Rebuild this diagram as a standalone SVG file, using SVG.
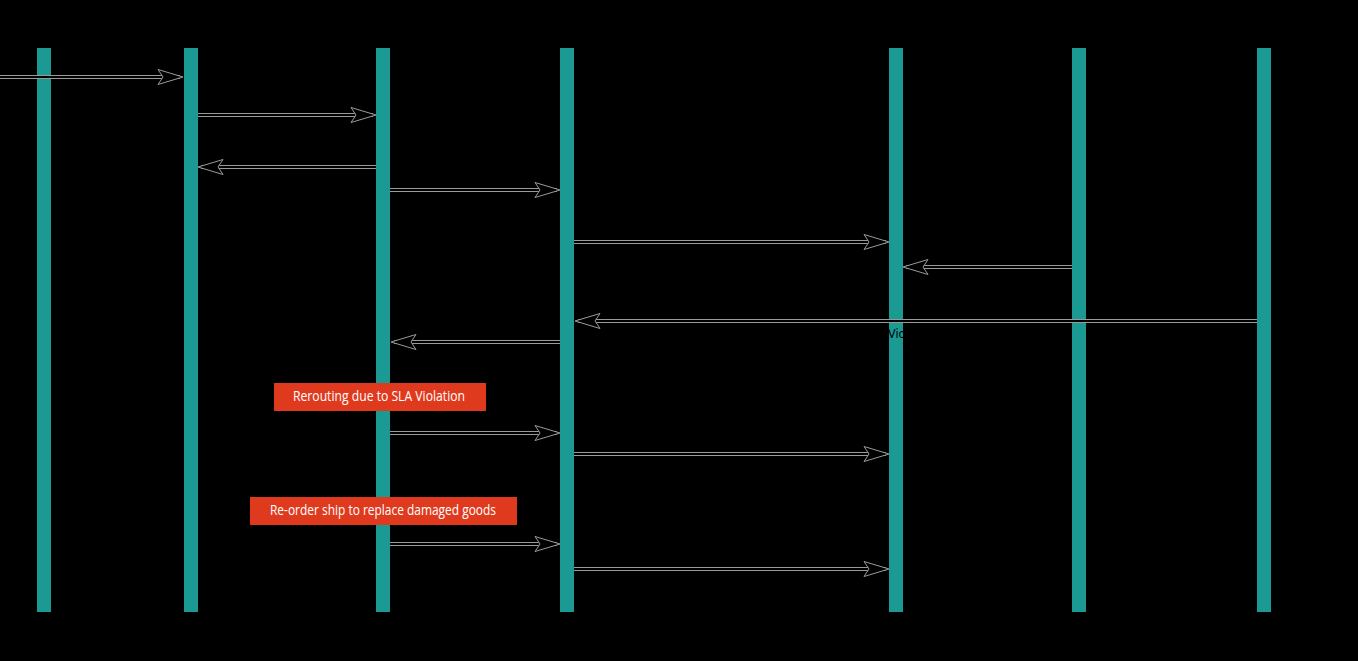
<svg xmlns="http://www.w3.org/2000/svg" width="1358" height="661" viewBox="0 0 1358 661">
<style>
.bg{fill:#000}
.life{fill:#1b9a94}
.hdr{font-family:"DejaVu Sans Condensed","Liberation Sans",sans-serif;font-size:17px;fill:#000;text-anchor:middle}
.lbl{font-family:"DejaVu Sans Condensed","Liberation Sans",sans-serif;font-size:12.5px;fill:#000;text-anchor:middle}
.lbe{text-anchor:end}
.eo{fill:none;stroke:#9a9a9a;stroke-width:4}
.ei{fill:none;stroke:#000;stroke-width:1.8;marker-end:url(#ah)}
.loop{fill:none;stroke:#000;stroke-width:1.5}
.note{fill:#e03a1e}
.ntx{font-family:"Open Sans","Liberation Sans",sans-serif;font-size:14px;fill:#fff;text-anchor:middle}
</style>
<defs>
<marker id="ah" markerUnits="userSpaceOnUse" markerWidth="27" markerHeight="17" refX="25" refY="8" orient="auto" viewBox="-1 0 27 16">
<path d="M0,0.5 L25,8 L0,15.5 L5,8 Z" fill="#000" stroke="#9a9a9a" stroke-width="1"/>
</marker>
</defs>
<rect class="bg" x="0" y="0" width="1358" height="661"/>
<g id="lifelines">
<g id="shipper"><rect class="life" x="37" y="48" width="14" height="564"/><text class="hdr" x="41" y="30" textLength="60" lengthAdjust="spacingAndGlyphs">Shipper</text><text class="hdr" x="41" y="638" textLength="60" lengthAdjust="spacingAndGlyphs">Shipper</text></g>
<g id="erp"><rect class="life" x="184" y="48" width="14" height="564"/><text class="hdr" x="190" y="30" textLength="16" lengthAdjust="spacingAndGlyphs">ERP</text><text class="hdr" x="190" y="638" textLength="16" lengthAdjust="spacingAndGlyphs">ERP</text></g>
<g id="b1"><rect class="life" x="376" y="48" width="14" height="564"/><text class="hdr" x="390" y="30" textLength="188" lengthAdjust="spacingAndGlyphs">B1 Web Registration Layer</text><text class="hdr" x="390" y="638" textLength="188" lengthAdjust="spacingAndGlyphs">B1 Web Registration Layer</text></g>
<g id="b2"><rect class="life" x="560" y="48" width="14" height="564"/><text class="hdr" x="577" y="30" textLength="144" lengthAdjust="spacingAndGlyphs">B2 Shipping Layer</text><text class="hdr" x="577" y="638" textLength="144" lengthAdjust="spacingAndGlyphs">B2 Shipping Layer</text></g>
<g id="b3"><rect class="life" x="889" y="48" width="14" height="564"/><text class="hdr" x="904" y="30" textLength="132" lengthAdjust="spacingAndGlyphs">B3 Routing Layer</text><text class="hdr" x="904" y="638" textLength="132" lengthAdjust="spacingAndGlyphs">B3 Routing Layer</text></g>
<g id="b4"><rect class="life" x="1072" y="48" width="14" height="564"/><text class="hdr" x="1087" y="30" textLength="174" lengthAdjust="spacingAndGlyphs">B4 Monitoring Layer</text><text class="hdr" x="1087" y="638" textLength="174" lengthAdjust="spacingAndGlyphs">B4 Monitoring Layer</text></g>
<g id="iot"><rect class="life" x="1257" y="48" width="14" height="564"/><text class="hdr" x="1266" y="30" textLength="166" lengthAdjust="spacingAndGlyphs">IoT Cloud Platform</text><text class="hdr" x="1266" y="638" textLength="166" lengthAdjust="spacingAndGlyphs">IoT Cloud Platform</text></g>
</g>
<g id="notes">
<g id="note1"><rect class="note" x="274" y="383" width="212" height="28"/><text class="ntx" x="379" y="401" textLength="172" lengthAdjust="spacingAndGlyphs">Rerouting due to SLA Violation</text></g>
<g id="note2"><rect class="note" x="250" y="497" width="267" height="28"/><text class="ntx" x="383" y="515" textLength="226" lengthAdjust="spacingAndGlyphs">Re-order ship to replace damaged goods</text></g>
</g>
<g id="connectors">
<path class="eo" d="M0,77 H180"/><path class="ei" d="M0,77 H183"/>
<path class="eo" d="M198,115 H373"/><path class="ei" d="M198,115 H376"/>
<path class="loop" d="M391,132 H440 V146 H391"/>
<path class="eo" d="M376,167 H201"/><path class="ei" d="M376,167 H198"/>
<path class="eo" d="M390,190 H557"/><path class="ei" d="M390,190 H560"/>
<path class="loop" d="M575,207 H623 V219 H575"/>
<path class="eo" d="M574,242 H886"/><path class="ei" d="M574,242 H889"/>
<path class="eo" d="M1072,267 H906"/><path class="ei" d="M1072,267 H903"/>
<path class="loop" d="M904,283 H952 V297 H904"/>
<path class="eo" d="M1257,321 H578"/><path class="ei" d="M1257,321 H575"/>
<path class="eo" d="M560,342 H394"/><path class="ei" d="M560,342 H391"/>
<path class="loop" d="M391,355 H440 V368 H391"/>
<path class="eo" d="M390,433 H557"/><path class="ei" d="M390,433 H560"/>
<path class="eo" d="M574,454 H886"/><path class="ei" d="M574,454 H889"/>
<path class="loop" d="M904,471 H952 V487 H904"/>
<path class="eo" d="M390,544 H557"/><path class="ei" d="M390,544 H560"/>
<path class="eo" d="M574,569 H886"/><path class="ei" d="M574,569 H889"/>
<path class="loop" d="M904,584 H952 V599 H904"/>
</g>
<g id="labels">
<text class="lbl" x="107" y="66">Create Order</text>
<text class="lbl" x="288" y="104">Request Shipment</text>
<text class="lbl lbe" x="372" y="134">Register Shipment Contract</text>
<text class="lbl" x="290" y="157">Shipment Confirmation</text>
<text class="lbl" x="471" y="181">Ship</text>
<text class="lbl" x="723" y="235">Start Tracking</text>
<text class="lbl" x="1007" y="254">Location Update</text>
<text class="lbl lbe" x="886" y="287">Check Route Compliance and Detect Deviation</text>
<text class="lbl"><tspan x="886" y="338" text-anchor="end">Notify Temperature SLA </tspan><tspan x="888" y="338" text-anchor="start">Violation to Shipping Layer</tspan></text>
<text class="lbl" x="475" y="334">SLA Violation Alert</text>
<text class="lbl lbe" x="368" y="366">Request Rerouting</text>
<text class="lbl" x="468" y="426">Reroute Shipment</text>
<text class="lbl" x="712" y="446">Update Route Contract with New Destination</text>
<text class="lbl lbe" x="878" y="474">Track New Route</text>
<text class="lbl" x="470" y="536">Re-order Shipment</text>
<text class="lbl" x="720" y="561">Create New Shipping Order</text>
<text class="lbl lbe" x="878" y="589">Track Replacement Shipment</text>
</g>
</svg>
